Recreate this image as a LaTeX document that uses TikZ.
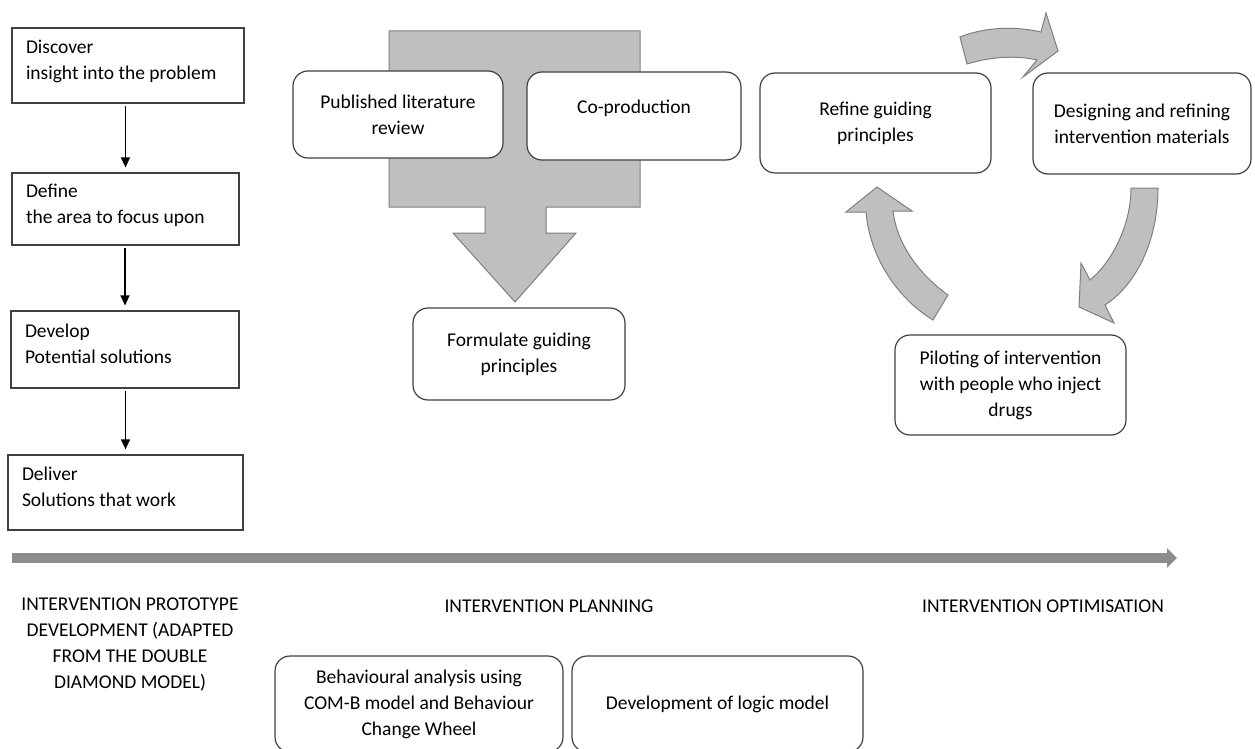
\documentclass[tikz,border=0pt]{standalone}
\usepackage{fontspec}
\setmainfont{Carlito}
\usepackage{tikz}
\usetikzlibrary{arrows.meta,positioning}

\definecolor{blockGrey}{HTML}{BFBFBF}
\definecolor{blockEdge}{HTML}{7F7F7F}
\definecolor{timeGrey}{HTML}{8C8C8C}
\definecolor{boxEdge}{HTML}{404040}

% extra depth under the last line of a stage box
\newcommand{\stagegap}{\rule[-11pt]{0pt}{11pt}}

\begin{document}
\begin{tikzpicture}[
	x=1pt, y=-1pt,
	font=\fontsize{19.5pt}{26pt}\selectfont
	]
\tikzset{
	base/.style = { rectangle, draw=boxEdge, line width=1.2pt, fill=white, inner sep=0pt },
	stage/.style = { base, align=flush left, inner xsep=14pt },
	rounded/.style = { base, rounded corners=15pt, align=center },
	phase/.style = { align=center },
	arrow/.style = { line width=1.3pt, -{Triangle[length=10pt,width=9pt]}, shorten >=5pt, shorten <=2pt },
	timeline/.style = { line width=10pt, draw=timeGrey, -{Triangle[length=10pt,width=19pt]} },
	blockArrow/.style = { fill=blockGrey, draw=blockEdge, line width=1pt, line join=miter }
}
\useasboundingbox (0,0) rectangle (1255,749);

	% block arrows (behind the boxes)
	\draw [blockArrow] (389,31) -- (640,31) -- (640,207) -- (546,207) -- (546,233) -- (576,233) -- (515,302) -- (453,233) -- (485,233) -- (485,207) -- (389,207) -- cycle;
	\draw [blockArrow] (960,37) .. controls (985,27) and (1015,26) .. (1041,32) -- (1046,13) -- (1058,51) -- (1023,77) -- (1037,60) .. controls (1015,55) and (990,57) .. (967,64) -- cycle;
	\draw [blockArrow] (1131,188) -- (1158,188) .. controls (1158,235) and (1140,282) .. (1105,305) -- (1114,323) -- (1079,307) -- (1081,263) -- (1090,280) .. controls (1112,262) and (1131,225) .. (1131,188) -- cycle;
	\draw [blockArrow] (933,320) .. controls (900,300) and (870,260) .. (866,212) -- (846,212) -- (877,187) -- (912,211) -- (893,211) .. controls (897,245) and (920,275) .. (948,295) -- cycle;

	% left column
	\node (discover) [stage, text width=204pt, minimum height=75pt] at (128,65.5) {Discover\\\stagegap insight into the problem};
	\node (define) [stage, text width=199pt, minimum height=72pt] at (125.5,209) {Define\\\stagegap the area to focus upon};
	\node (develop) [stage, text width=200pt, minimum height=77pt] at (125,349.5) {Develop\\\stagegap Potential solutions};
	\node (deliver) [stage, text width=207pt, minimum height=75pt] at (125.5,492.5) {Deliver\\\stagegap Solutions that work};

	% planning
	\node (literature) [rounded, minimum width=210pt, minimum height=87pt] at (398,114.5) {Published literature\\review};
	\node (coProduction) [rounded, minimum width=214pt, minimum height=88pt, text depth=19pt] at (634,116) {Co-production};
	\node (formulate) [rounded, minimum width=212pt, minimum height=92pt] at (519,354) {Formulate guiding\\principles};

	% optimisation cycle
	\node (refine) [rounded, minimum width=231pt, minimum height=100pt] at (875.5,123) {Refine guiding\\principles};
	\node (designing) [rounded, minimum width=218pt, minimum height=101pt] at (1142,123.5) {Designing and refining\\intervention materials};
	\node (piloting) [rounded, minimum width=231pt, minimum height=100pt] at (1010.5,385) {Piloting of intervention\\with people who inject\\drugs};

	% timeline and phases
	\coordinate (timeStart) at (12,558);
	\coordinate (timeEnd) at (1177,558);
	\node (prototypeLabel) [phase] at (130,645) {INTERVENTION PROTOTYPE\\DEVELOPMENT (ADAPTED\\FROM THE DOUBLE\\DIAMOND MODEL)};
	\node (planningLabel) [phase] at (549,606) {INTERVENTION PLANNING};
	\node (optimisationLabel) [phase] at (1043,606) {INTERVENTION OPTIMISATION};

	\node (behaviour) [rounded, minimum width=288pt, minimum height=96pt] at (419,704) {Behavioural analysis using\\COM-B model and Behaviour\\Change Wheel};
	\node (logicModel) [rounded, minimum width=291pt, minimum height=96pt] at (717.5,704) {Development of logic model};

	% paths
	\draw [arrow] (discover.south -| define.north) -- (define.north);
	\draw [arrow] (define.south -| develop.north) -- (develop.north);
	\draw [arrow] (develop.south -| deliver.north) -- (deliver.north);
	\draw [timeline] (timeStart) -- (timeEnd);
\end{tikzpicture}
\end{document}
